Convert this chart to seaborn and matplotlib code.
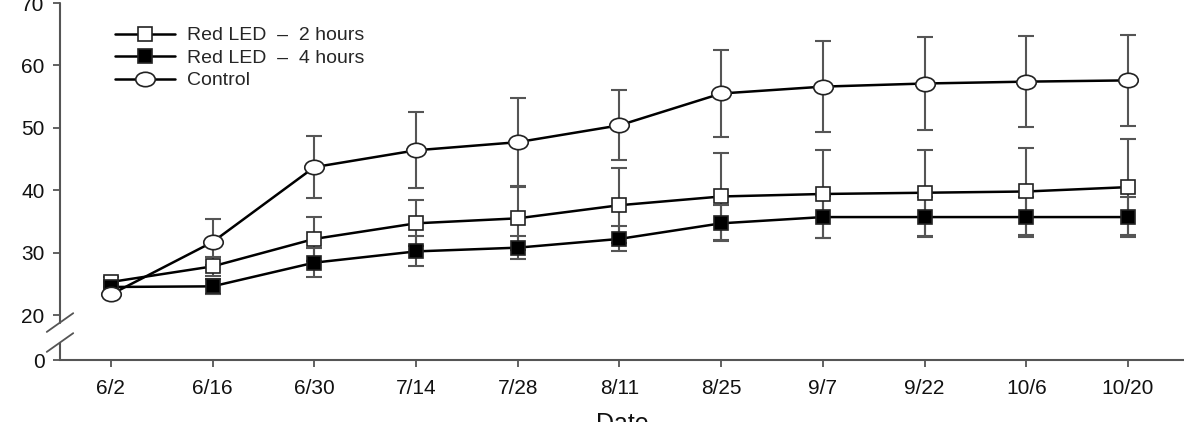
import numpy as np
import pandas as pd
import seaborn as sns
import matplotlib.pyplot as plt
from matplotlib.path import Path

# Data
dates = ["6/2", "6/16", "6/30", "7/14", "7/28", "8/11", "8/25", "9/7", "9/22", "10/6", "10/20"]
led2_mean = [25.3, 27.8, 32.2, 34.7, 35.5, 37.6, 39.0, 39.4, 39.6, 39.8, 40.5]
led2_err = [0.8, 1.5, 3.5, 3.7, 5.0, 6.0, 6.9, 7.1, 6.9, 6.9, 7.7]
led4_mean = [24.5, 24.6, 28.4, 30.2, 30.8, 32.2, 34.7, 35.7, 35.7, 35.7, 35.7]
led4_err = [0.8, 1.2, 2.3, 2.4, 1.8, 2.0, 2.9, 3.4, 3.2, 3.2, 3.2]
ctrl_mean = [23.3, 31.7, 43.7, 46.4, 47.7, 50.4, 55.5, 56.6, 57.1, 57.4, 57.6]
ctrl_err = [0.0, 3.7, 5.0, 6.1, 7.0, 5.6, 7.0, 7.3, 7.4, 7.3, 7.3]

series_names = ["Red LED  \u2013  2 hours", "Red LED  \u2013  4 hours", "Control"]

sns.set_theme(style="white")
plt.rcParams['font.family'] = ['Liberation Sans', 'DejaVu Sans']

fig = plt.figure(figsize=(11.84, 4.22), dpi=100)
ax = fig.add_axes([60 / 1184, 1 - 360 / 422, 1 - 60 / 1184, (360 - 3) / 422])

x = np.arange(len(dates))

# ellipse marker for control
uc = Path.unit_circle()
ellipse = Path(uc.vertices * np.array([1.35, 1.0]), uc.codes)

styles = [
    (led2_mean, led2_err, "s", "white", 10),
    (led4_mean, led4_err, "s", "black", 10),
    (ctrl_mean, ctrl_err, ellipse, "white", 14),
]

for name, (m, e, mk, fc, ms) in zip(series_names, styles):
    ax.errorbar(x, m, yerr=e, fmt="none", ecolor="#555555", elinewidth=1.5,
                capsize=5.5, capthick=1.5, zorder=2)
    df = pd.DataFrame({"x": x, "y": m})
    sns.lineplot(data=df, x="x", y="y", ax=ax, color="black", linewidth=1.8,
                 marker=mk, markersize=ms, markerfacecolor=fc,
                 markeredgecolor="#222222", markeredgewidth=1.2, label=name,
                 zorder=3)

# axis with break: "0" drawn at 12.8
y0 = 12.8
ax.set_ylim(y0, 70)
ax.set_xlim(-0.5, 10.55)
ax.set_yticks([y0, 20, 30, 40, 50, 60, 70])
ax.set_yticklabels(["0", "20", "30", "40", "50", "60", "70"])
ax.set_xticks(x)
ax.set_xticklabels(dates)

col = "#555555"
for s in ["top", "right", "left"]:
    ax.spines[s].set_visible(False)
ax.spines["bottom"].set_color(col)
ax.spines["bottom"].set_linewidth(1.5)

# left spine drawn in two pieces with break marks
ax.plot([-0.5, -0.5], [18.8, 70], color=col, lw=1.5, clip_on=False, zorder=4)
ax.plot([-0.5, -0.5], [y0, 15.6], color=col, lw=1.5, clip_on=False, zorder=4)
dx = 0.13
for yb in [18.8, 15.6]:
    ax.plot([-0.5 - dx, -0.5 + dx], [yb - 1.5, yb + 1.5], color=col, lw=1.3,
            clip_on=False, zorder=4)

ax.tick_params(axis="both", which="both", direction="out", length=5, width=1.3,
               color=col, labelsize=15, labelcolor="#111111", left=True, bottom=True)
ax.tick_params(axis="x", pad=9)
ax.tick_params(axis="y", pad=6)
ax.set_xlabel("Date", fontsize=18, labelpad=10, color="#111111")
ax.set_ylabel("")

leg = ax.legend(loc="upper left", bbox_to_anchor=(0.042, 0.955), frameon=False,
                fontsize=14, handlelength=3.1, handletextpad=0.6,
                labelspacing=0.25, borderaxespad=0)

fig.savefig("out.png", dpi=100)
